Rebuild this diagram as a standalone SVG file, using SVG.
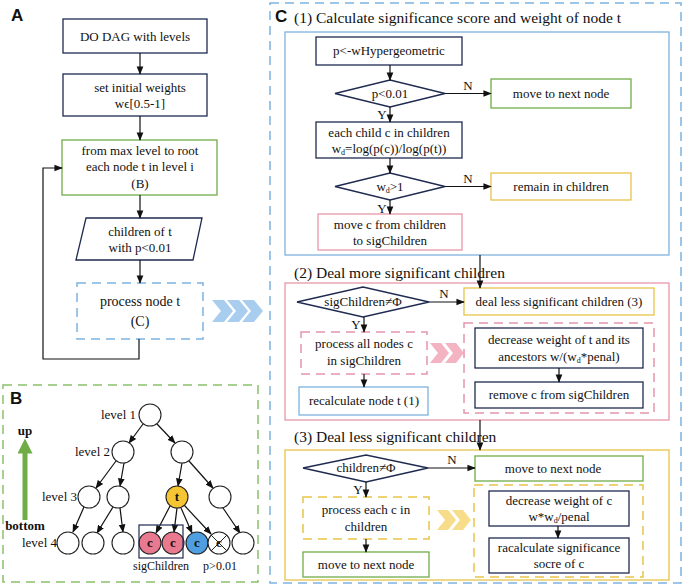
<svg xmlns="http://www.w3.org/2000/svg" width="684" height="588" viewBox="0 0 684 588" font-family="'Liberation Serif','Times New Roman','DejaVu Serif',serif">
<defs>
<marker id="ar" viewBox="0 0 10 10" refX="9" refY="5" markerWidth="7" markerHeight="7" orient="auto"><path d="M0,1 L10,5 L0,9 z" fill="#111"/></marker>
<marker id="ag" viewBox="0 0 10 10" refX="5" refY="5" markerWidth="3" markerHeight="3" orient="auto"><path d="M0,0 L10,5 L0,10 z" fill="#70ad47"/></marker>
<style>
text{font-family:'Liberation Serif','Times New Roman','DejaVu Serif',serif;font-size:13px;fill:#111;text-anchor:middle}
.t{font-size:15.5px;text-anchor:start}
.lab{font-family:'Liberation Sans',Arial,sans-serif;font-weight:bold;font-size:17px;text-anchor:start}
.s{font-size:12px}
.nv{fill:#fff;stroke:#1f2a50;stroke-width:1.3}
.gr{fill:#fff;stroke:#70ad47;stroke-width:1.3}
.ye{fill:#fff;stroke:#e8c34a;stroke-width:1.3}
.pk{fill:#fff;stroke:#e597aa;stroke-width:1.3}
.bl{fill:#fff;stroke:#7eb3df;stroke-width:1.3}
.dpk{fill:none;stroke:#e597aa;stroke-width:1.5;stroke-dasharray:9 6}
.dye{fill:none;stroke:#e8c34a;stroke-width:1.5;stroke-dasharray:9 6}
.dbl{fill:none;stroke:#7eb3df;stroke-width:1.5;stroke-dasharray:9 6}
.c line,.c path,.c polyline{stroke:#111;stroke-width:1.2;fill:none}
.ln{stroke:#111;stroke-width:1.1;marker-end:url(#ar)}
.cir{fill:#fff;stroke:#222;stroke-width:1.1}
</style>
</defs>
<rect width="684" height="588" fill="#fff"/>

<text class="lab" x="11" y="21">A</text>
<g id="a1"><rect class="nv" x="63" y="19" width="144" height="34"/><text x="135" y="41">DO DAG with levels</text></g>
<g id="a2"><rect class="nv" x="63" y="74" width="144" height="42"/><text x="140" y="92">set initial weights</text><text x="140" y="108">wϵ[0.5-1]</text></g>
<g id="a3"><rect class="gr" x="62" y="140" width="155" height="55"/><text x="140" y="155">from max level to root</text><text x="140" y="171">each node t in level i</text><text x="140" y="188">(B)</text></g>
<g id="a4"><polygon class="nv" points="86,218 202,218 193,260 76,260"/><text x="140" y="236">children of t</text><text x="140" y="252">with p&lt;0.01</text></g>
<g id="a5"><rect class="dbl" x="77" y="283" width="126" height="56"/><text x="140" y="306" style="font-size:14px">process node t</text><text x="140" y="326" style="font-size:14px">(C)</text></g>
<g id="chevA" fill="#a9cdef"><polygon points="212,300 224,300 233,311 224,322 212,322 221,311"/><polygon points="227,300 239,300 248,311 239,322 227,322 236,311"/><polygon points="242,300 254,300 263,311 254,322 242,322 251,311"/></g>

<g id="connA" class="c">
<line class="ln" x1="140" y1="53" x2="140" y2="74"/>
<line class="ln" x1="140" y1="116" x2="140" y2="140"/>
<line class="ln" x1="140" y1="195" x2="140" y2="218"/>
<line class="ln" x1="140" y1="260" x2="140" y2="283"/>
<polyline class="ln" points="139,339 139,359 43,359 43,168 62,168"/>
</g>

<g id="panelB">
<rect class="dbl" style="stroke:#8bc06a" x="3" y="385" width="255" height="197"/>
<text class="lab" x="10" y="404">B</text>
<line x1="25" y1="520" x2="25" y2="446" stroke="#70ad47" stroke-width="5" marker-end="url(#ag)"/>
<text x="25" y="435" style="font-weight:bold">up</text>
<text x="25" y="530" style="font-weight:bold">bottom</text>
<text x="136" y="419" style="text-anchor:end">level 1</text>
<text x="110" y="456" style="text-anchor:end">level 2</text>
<text x="77" y="501" style="text-anchor:end">level 3</text>
<text x="57" y="547" style="text-anchor:end">level 4</text>
<g class="c">
<line class="ln" x1="143" y1="424" x2="129" y2="443"/>
<line class="ln" x1="157" y1="424" x2="175" y2="443"/>
<line class="ln" x1="116" y1="461" x2="96" y2="488"/>
<line class="ln" x1="124" y1="463" x2="120" y2="486"/>
<line class="ln" x1="182" y1="463" x2="178" y2="486"/>
<line class="ln" x1="189" y1="461" x2="213" y2="488"/>
<line class="ln" x1="84" y1="507" x2="73" y2="532"/>
<line class="ln" x1="113" y1="507" x2="97" y2="533"/>
<line class="ln" x1="120" y1="508" x2="123" y2="532"/>
<line class="ln" x1="170" y1="506" x2="156" y2="533"/>
<line class="ln" x1="177" y1="508" x2="174" y2="532"/>
<line class="ln" x1="181" y1="508" x2="192" y2="533"/>
<line class="ln" x1="184" y1="505" x2="211" y2="534"/>
<line class="ln" x1="223" y1="508" x2="240" y2="533"/>
</g>
<circle class="cir" cx="150" cy="415" r="11"/>
<circle class="cir" cx="123" cy="452" r="11"/><circle class="cir" cx="182" cy="452" r="11"/>
<circle class="cir" cx="89" cy="497" r="11"/><circle class="cir" cx="118" cy="497" r="11"/>
<circle class="cir" cx="177" cy="497" r="11" style="fill:#f5c533"/><circle class="cir" cx="220" cy="497" r="11"/>
<text x="177" y="501" style="font-weight:bold">t</text>
<circle class="cir" cx="68" cy="543" r="11"/><circle class="cir" cx="93" cy="543" r="11"/><circle class="cir" cx="123" cy="543" r="11"/>
<circle class="cir" cx="150" cy="543" r="11" style="fill:#e9798f"/><circle class="cir" cx="173" cy="543" r="11" style="fill:#e9798f"/>
<circle class="cir" cx="197" cy="543" r="11" style="fill:#4f9fe0"/>
<circle class="cir" cx="219" cy="543" r="11"/><circle class="cir" cx="243" cy="543" r="11"/>
<text x="150" y="547" style="font-weight:bold">c</text><text x="173" y="547" style="font-weight:bold">c</text><text x="197" y="547" style="font-weight:bold">c</text><text x="219" y="547" style="font-weight:bold">c</text>
<line x1="211" y1="535" x2="227" y2="551" stroke="#222"/><line x1="227" y1="535" x2="211" y2="551" stroke="#222"/>
<rect x="139" y="525" width="44" height="33" fill="none" stroke="#1f2a50" stroke-width="1.2"/>
<text x="161" y="570" class="s">sigChildren</text><text x="220" y="570" class="s">p&gt;0.01</text>
</g>

<rect class="dbl" x="270" y="3" width="411" height="580"/>
<text class="lab" x="275" y="22">C</text>
<text class="t" x="294" y="23">(1) Calculate significance score and weight of node t</text>
<rect class="bl" x="285" y="32" width="384" height="223"/>
<g id="c1"><rect class="nv" x="316" y="37" width="146" height="28"/><text x="389" y="55">p&lt;-wHypergeometric</text></g>
<g id="c2"><polygon class="nv" points="335,93.5 390,80 445,93.5 390,107"/><text x="390" y="98">p&lt;0.01</text></g>
<g id="c3"><rect class="gr" x="491" y="79" width="140" height="29"/><text x="561" y="98">move to next node</text></g>
<g id="c4"><rect class="nv" x="316" y="122" width="146" height="36"/><text x="389" y="137">each child c in children</text><text x="389" y="153">w<tspan font-size="8" dy="2">d</tspan><tspan dy="-2">=log(p(c))/log(p(t))</tspan></text></g>
<g id="c5"><polygon class="nv" points="335,186.5 390,173 445,186.5 390,200"/><text x="390" y="191">w<tspan font-size="8" dy="2">d</tspan><tspan dy="-2">&gt;1</tspan></text></g>
<g id="c6"><rect class="ye" x="491" y="173" width="140" height="27"/><text x="561" y="191">remain in children</text></g>
<g id="c7"><rect class="pk" x="318" y="214" width="144" height="36"/><text x="390" y="229">move c from children</text><text x="390" y="245">to sigChildren</text></g>

<text class="t" x="294" y="278">(2) Deal more significant children</text>
<rect class="pk" x="285" y="283" width="384" height="137"/>
<g id="d1"><polygon class="nv" points="297,302 363,287 429,302 363,317"/><text x="363" y="306">sigChildren≠Φ</text></g>
<g id="d2"><rect class="ye" x="464" y="288" width="190" height="27"/><text x="559" y="306">deal less significant children (3)</text></g>
<g id="d3"><rect class="dpk" x="301" y="332" width="126" height="42"/><text x="364" y="348">process all nodes c</text><text x="364" y="365">in sigChildren</text></g>
<g id="chevP" fill="#f4b3c2"><polygon points="430,343 441,343 449,353 441,363 430,363 438,353"/><polygon points="445,343 456,343 464,353 456,363 445,363 453,353"/></g>
<rect class="dpk" x="464" y="323" width="190" height="90"/>
<g id="d4"><rect class="nv" x="475" y="328" width="168" height="40"/><text x="559" y="344">decrease weight of t and its</text><text x="559" y="361">ancestors w/(w<tspan font-size="8" dy="2">d</tspan><tspan dy="-2">*penal)</tspan></text></g>
<g id="d5"><rect class="nv" x="475" y="382" width="168" height="26"/><text x="559" y="399">remove c from sigChildren</text></g>
<g id="d6"><rect class="bl" x="299" y="387" width="129" height="28"/><text x="364" y="405">recalculate node t (1)</text></g>

<text class="t" x="294" y="442">(3) Deal less significant children</text>
<rect class="ye" x="285" y="450" width="384" height="130"/>
<g id="e1"><polygon class="nv" points="303,468 366,455 428,468 366,482"/><text x="366" y="472">children≠Φ</text></g>
<g id="e2"><rect class="gr" x="475" y="456" width="168" height="25"/><text x="553" y="473">move to next node</text></g>
<g id="e3"><rect class="dye" x="303" y="497" width="126" height="42"/><text x="366" y="514">process each c in</text><text x="366" y="531">children</text></g>
<g id="chevY" fill="#f7dc8a"><polygon points="437,510 448,510 456,520 448,530 437,530 445,520"/><polygon points="452,510 463,510 471,520 463,530 452,530 460,520"/></g>
<rect class="dye" x="474" y="485" width="169" height="92"/>
<g id="e4"><rect class="nv" x="489" y="491" width="140" height="35"/><text x="559" y="505">decrease weight of c</text><text x="559" y="521">w*w<tspan font-size="8" dy="2">d</tspan><tspan dy="-2">/penal</tspan></text></g>
<g id="e5"><rect class="nv" x="489" y="538" width="140" height="35"/><text x="559" y="552">racalculate significance</text><text x="559" y="568">socre of c</text></g>
<g id="e6"><rect class="gr" x="303" y="552" width="126" height="25"/><text x="366" y="569">move to next node</text></g>

<g id="connC" class="c">
<line class="ln" x1="390" y1="65" x2="390" y2="80"/>
<line class="ln" x1="445" y1="93.5" x2="491" y2="93.5"/>
<line class="ln" x1="390" y1="107" x2="390" y2="122"/>
<line class="ln" x1="390" y1="158" x2="390" y2="173"/>
<line class="ln" x1="445" y1="186.5" x2="491" y2="186.5"/>
<line class="ln" x1="390" y1="200" x2="390" y2="214"/>
<line class="ln" x1="480" y1="255" x2="480" y2="288"/>
<line class="ln" x1="429" y1="302" x2="464" y2="302"/>
<line class="ln" x1="364" y1="317" x2="364" y2="332"/>
<line class="ln" x1="364" y1="374" x2="364" y2="387"/>
<line class="ln" x1="559" y1="368" x2="559" y2="382"/>
<line class="ln" x1="480" y1="420" x2="480" y2="450"/>
<line class="ln" x1="428" y1="468" x2="475" y2="468"/>
<line class="ln" x1="366" y1="482" x2="366" y2="497"/>
<line class="ln" x1="366" y1="539" x2="366" y2="552"/>
<line class="ln" x1="558" y1="526" x2="558" y2="538"/>
</g>
<g id="yn" class="s">
<text x="468" y="90">N</text><text x="382" y="119">Y</text>
<text x="468" y="183">N</text><text x="382" y="213">Y</text>
<text x="444" y="298">N</text><text x="356" y="329">Y</text>
<text x="452" y="464">N</text><text x="358" y="494">Y</text>
</g>
</svg>
